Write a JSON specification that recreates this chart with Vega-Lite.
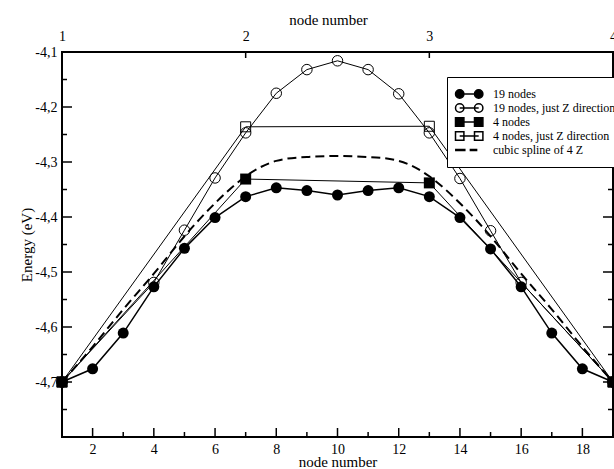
{
  "$schema": "https://vega.github.io/schema/vega-lite/v6.json",
  "width": 551,
  "height": 385,
  "autosize": "none",
  "padding": {"left": 62, "top": 52, "right": 1, "bottom": 32},
  "background": "white",
  "config": {
    "view": {"stroke": "black", "strokeWidth": 2},
    "font": "Liberation Serif",
    "axis": {
      "domain": false,
      "grid": false,
      "ticks": false,
      "labelColor": "black",
      "titleColor": "black",
      "labelFont": "Liberation Serif",
      "titleFont": "Liberation Serif",
      "titleFontWeight": "normal",
      "labelFontSize": 14,
      "titleFontSize": 15,
      "labelOverlap": false,
      "labelFlush": false
    }
  },
  "datasets": {
    "curves": [
      {"series": "19 nodes", "x": 1, "y": -4.700},
      {"series": "19 nodes", "x": 2, "y": -4.676},
      {"series": "19 nodes", "x": 3, "y": -4.611},
      {"series": "19 nodes", "x": 4, "y": -4.527},
      {"series": "19 nodes", "x": 5, "y": -4.457},
      {"series": "19 nodes", "x": 6, "y": -4.401},
      {"series": "19 nodes", "x": 7, "y": -4.363},
      {"series": "19 nodes", "x": 8, "y": -4.347},
      {"series": "19 nodes", "x": 9, "y": -4.352},
      {"series": "19 nodes", "x": 10, "y": -4.360},
      {"series": "19 nodes", "x": 11, "y": -4.352},
      {"series": "19 nodes", "x": 12, "y": -4.347},
      {"series": "19 nodes", "x": 13, "y": -4.363},
      {"series": "19 nodes", "x": 14, "y": -4.401},
      {"series": "19 nodes", "x": 15, "y": -4.458},
      {"series": "19 nodes", "x": 16, "y": -4.527},
      {"series": "19 nodes", "x": 17, "y": -4.611},
      {"series": "19 nodes", "x": 18, "y": -4.676},
      {"series": "19 nodes", "x": 19, "y": -4.700},
      {"series": "19 nodes, just Z direction", "x": 1, "y": -4.700},
      {"series": "19 nodes, just Z direction", "x": 4, "y": -4.519},
      {"series": "19 nodes, just Z direction", "x": 5, "y": -4.424},
      {"series": "19 nodes, just Z direction", "x": 6, "y": -4.329},
      {"series": "19 nodes, just Z direction", "x": 7, "y": -4.247},
      {"series": "19 nodes, just Z direction", "x": 8, "y": -4.175},
      {"series": "19 nodes, just Z direction", "x": 9, "y": -4.132},
      {"series": "19 nodes, just Z direction", "x": 10, "y": -4.116},
      {"series": "19 nodes, just Z direction", "x": 11, "y": -4.132},
      {"series": "19 nodes, just Z direction", "x": 12, "y": -4.176},
      {"series": "19 nodes, just Z direction", "x": 13, "y": -4.247},
      {"series": "19 nodes, just Z direction", "x": 14, "y": -4.330},
      {"series": "19 nodes, just Z direction", "x": 15, "y": -4.425},
      {"series": "19 nodes, just Z direction", "x": 16, "y": -4.519},
      {"series": "19 nodes, just Z direction", "x": 19, "y": -4.700},
      {"series": "4 nodes", "x": 1, "y": -4.700},
      {"series": "4 nodes", "x": 7, "y": -4.331},
      {"series": "4 nodes", "x": 13, "y": -4.338},
      {"series": "4 nodes", "x": 19, "y": -4.700},
      {"series": "4 nodes, just Z direction", "x": 1, "y": -4.700},
      {"series": "4 nodes, just Z direction", "x": 7, "y": -4.236},
      {"series": "4 nodes, just Z direction", "x": 13, "y": -4.235},
      {"series": "4 nodes, just Z direction", "x": 19, "y": -4.700},
      {"series": "cubic spline of 4 Z", "x": 1, "y": -4.700},
      {"series": "cubic spline of 4 Z", "x": 2, "y": -4.636},
      {"series": "cubic spline of 4 Z", "x": 3, "y": -4.568},
      {"series": "cubic spline of 4 Z", "x": 4, "y": -4.503},
      {"series": "cubic spline of 4 Z", "x": 5, "y": -4.435},
      {"series": "cubic spline of 4 Z", "x": 6, "y": -4.375},
      {"series": "cubic spline of 4 Z", "x": 7, "y": -4.326},
      {"series": "cubic spline of 4 Z", "x": 8, "y": -4.298},
      {"series": "cubic spline of 4 Z", "x": 9, "y": -4.291},
      {"series": "cubic spline of 4 Z", "x": 10, "y": -4.289},
      {"series": "cubic spline of 4 Z", "x": 11, "y": -4.291},
      {"series": "cubic spline of 4 Z", "x": 12, "y": -4.298},
      {"series": "cubic spline of 4 Z", "x": 13, "y": -4.326},
      {"series": "cubic spline of 4 Z", "x": 14, "y": -4.375},
      {"series": "cubic spline of 4 Z", "x": 15, "y": -4.435},
      {"series": "cubic spline of 4 Z", "x": 16, "y": -4.503},
      {"series": "cubic spline of 4 Z", "x": 17, "y": -4.568},
      {"series": "cubic spline of 4 Z", "x": 18, "y": -4.636},
      {"series": "cubic spline of 4 Z", "x": 19, "y": -4.700}
    ],
    "yticks": [
      {"v": -4.75}, {"v": -4.7}, {"v": -4.65}, {"v": -4.6}, {"v": -4.55}, {"v": -4.5}, {"v": -4.45},
      {"v": -4.4}, {"v": -4.35}, {"v": -4.3}, {"v": -4.25}, {"v": -4.2}, {"v": -4.15}
    ]
  },
  "data": {"name": "curves"},
  "layer": [
    {
      "transform": [{"filter": "datum.series === '19 nodes'"}],
      "mark": {"type": "line", "color": "black", "strokeWidth": 1.5},
      "encoding": {
        "x": {
          "field": "x", "type": "quantitative",
          "scale": {"domain": [1, 19], "nice": false, "zero": false},
          "axis": {
            "orient": "bottom",
            "title": "node number",
            "values": [2, 4, 6, 8, 10, 12, 14, 16, 18],
            "labelPadding": 5,
            "titlePadding": -2
          }
        },
        "y": {
          "field": "y", "type": "quantitative",
          "scale": {"domain": [-4.8, -4.1], "nice": false, "zero": false},
          "axis": {
            "orient": "left",
            "title": "Energy (eV)",
            "values": [-4.7, -4.6, -4.5, -4.4, -4.3, -4.2, -4.1],
            "labelExpr": "'-' + replace(format(abs(datum.value), '.1f'), '.', ',')",
            "labelPadding": 5,
            "titlePadding": 0
          }
        }
      }
    },
    {
      "transform": [{"filter": "datum.series === 'cubic spline of 4 Z'"}],
      "mark": {"type": "line", "color": "black", "strokeWidth": 2, "strokeDash": [9, 5], "interpolate": "natural"},
      "encoding": {
        "x": {
          "field": "x", "type": "quantitative",
          "scale": {"domain": [1, 19], "nice": false, "zero": false},
          "axis": {
            "orient": "top",
            "title": "node number",
            "titleX": 266,
            "values": [1, 7, 13, 19],
            "labelExpr": "format((datum.value - 1) / 6 + 1, 'd')",
            "labelPadding": 9,
            "titlePadding": 2
          }
        },
        "y": {"field": "y", "type": "quantitative", "scale": {"domain": [-4.8, -4.1], "nice": false, "zero": false}, "axis": null}
      }
    },
    {
      "transform": [{"filter": "datum.series === '19 nodes' && datum.x % 2 === 0"}],
      "mark": {"type": "point", "shape": "M0,0L0,-1", "filled": false, "stroke": "black", "strokeWidth": 1.5, "size": 324, "opacity": 1},
      "encoding": {
        "x": {"field": "x", "type": "quantitative", "scale": {"domain": [1, 19], "nice": false, "zero": false}, "axis": null},
        "y": {"datum": -4.8, "type": "quantitative", "scale": {"domain": [-4.8, -4.1], "nice": false, "zero": false}, "axis": null}
      }
    },
    {
      "transform": [{"filter": "datum.series === '19 nodes' && datum.x % 2 === 1 && datum.x > 1 && datum.x < 19"}],
      "mark": {"type": "point", "shape": "M0,0L0,-1", "filled": false, "stroke": "black", "strokeWidth": 1.5, "size": 100, "opacity": 1},
      "encoding": {
        "x": {"field": "x", "type": "quantitative", "scale": {"domain": [1, 19], "nice": false, "zero": false}, "axis": null},
        "y": {"datum": -4.8, "type": "quantitative", "scale": {"domain": [-4.8, -4.1], "nice": false, "zero": false}, "axis": null}
      }
    },
    {
      "transform": [{"filter": "datum.series === '4 nodes' && datum.x > 1 && datum.x < 19"}],
      "mark": {"type": "point", "shape": "M0,0L0,1", "filled": false, "stroke": "black", "strokeWidth": 1.5, "size": 144, "opacity": 1},
      "encoding": {
        "x": {"field": "x", "type": "quantitative", "scale": {"domain": [1, 19], "nice": false, "zero": false}, "axis": null},
        "y": {"datum": -4.1, "type": "quantitative", "scale": {"domain": [-4.8, -4.1], "nice": false, "zero": false}, "axis": null}
      }
    },
    {
      "data": {"name": "yticks"},
      "transform": [{"filter": "abs(round(datum.v * 20)) % 2 === 0"}],
      "mark": {"type": "point", "shape": "M0,0L1,0", "filled": false, "stroke": "black", "strokeWidth": 1.5, "size": 400, "opacity": 1},
      "encoding": {
        "x": {"datum": 1, "type": "quantitative", "scale": {"domain": [1, 19], "nice": false, "zero": false}, "axis": null},
        "y": {"field": "v", "type": "quantitative", "scale": {"domain": [-4.8, -4.1], "nice": false, "zero": false}, "axis": null}
      }
    },
    {
      "data": {"name": "yticks"},
      "transform": [{"filter": "abs(round(datum.v * 20)) % 2 === 1"}],
      "mark": {"type": "point", "shape": "M0,0L1,0", "filled": false, "stroke": "black", "strokeWidth": 1.5, "size": 100, "opacity": 1},
      "encoding": {
        "x": {"datum": 1, "type": "quantitative", "scale": {"domain": [1, 19], "nice": false, "zero": false}, "axis": null},
        "y": {"field": "v", "type": "quantitative", "scale": {"domain": [-4.8, -4.1], "nice": false, "zero": false}, "axis": null}
      }
    },
    {
      "data": {"name": "yticks"},
      "transform": [{"filter": "abs(round(datum.v * 20)) % 2 === 0"}],
      "mark": {"type": "point", "shape": "M0,0L-1,0", "filled": false, "stroke": "black", "strokeWidth": 1.5, "size": 400, "opacity": 1},
      "encoding": {
        "x": {"datum": 19, "type": "quantitative", "scale": {"domain": [1, 19], "nice": false, "zero": false}, "axis": null},
        "y": {"field": "v", "type": "quantitative", "scale": {"domain": [-4.8, -4.1], "nice": false, "zero": false}, "axis": null}
      }
    },
    {
      "data": {"name": "yticks"},
      "transform": [{"filter": "abs(round(datum.v * 20)) % 2 === 1"}],
      "mark": {"type": "point", "shape": "M0,0L-1,0", "filled": false, "stroke": "black", "strokeWidth": 1.5, "size": 100, "opacity": 1},
      "encoding": {
        "x": {"datum": 19, "type": "quantitative", "scale": {"domain": [1, 19], "nice": false, "zero": false}, "axis": null},
        "y": {"field": "v", "type": "quantitative", "scale": {"domain": [-4.8, -4.1], "nice": false, "zero": false}, "axis": null}
      }
    },
    {
      "transform": [{"filter": "datum.series === '4 nodes, just Z direction'"}],
      "mark": {"type": "line", "color": "black", "strokeWidth": 1},
      "encoding": {
        "x": {"field": "x", "type": "quantitative", "scale": {"domain": [1, 19], "nice": false, "zero": false}, "axis": null},
        "y": {"field": "y", "type": "quantitative", "scale": {"domain": [-4.8, -4.1], "nice": false, "zero": false}, "axis": null}
      }
    },
    {
      "transform": [{"filter": "datum.series === '4 nodes'"}],
      "mark": {"type": "line", "color": "black", "strokeWidth": 1},
      "encoding": {
        "x": {"field": "x", "type": "quantitative", "scale": {"domain": [1, 19], "nice": false, "zero": false}, "axis": null},
        "y": {"field": "y", "type": "quantitative", "scale": {"domain": [-4.8, -4.1], "nice": false, "zero": false}, "axis": null}
      }
    },
    {
      "transform": [{"filter": "datum.series === '19 nodes, just Z direction'"}],
      "mark": {"type": "line", "color": "black", "strokeWidth": 1},
      "encoding": {
        "x": {"field": "x", "type": "quantitative", "scale": {"domain": [1, 19], "nice": false, "zero": false}, "axis": null},
        "y": {"field": "y", "type": "quantitative", "scale": {"domain": [-4.8, -4.1], "nice": false, "zero": false}, "axis": null}
      }
    },
    {
      "transform": [{"filter": "datum.series === '4 nodes, just Z direction'"}],
      "mark": {"type": "point", "shape": "square", "filled": false, "color": "black", "strokeWidth": 1, "size": 100, "opacity": 1},
      "encoding": {
        "x": {"field": "x", "type": "quantitative", "scale": {"domain": [1, 19], "nice": false, "zero": false}, "axis": null},
        "y": {"field": "y", "type": "quantitative", "scale": {"domain": [-4.8, -4.1], "nice": false, "zero": false}, "axis": null}
      }
    },
    {
      "transform": [{"filter": "datum.series === '4 nodes'"}],
      "mark": {"type": "point", "shape": "square", "filled": true, "color": "black", "size": 121, "opacity": 1},
      "encoding": {
        "x": {"field": "x", "type": "quantitative", "scale": {"domain": [1, 19], "nice": false, "zero": false}, "axis": null},
        "y": {"field": "y", "type": "quantitative", "scale": {"domain": [-4.8, -4.1], "nice": false, "zero": false}, "axis": null}
      }
    },
    {
      "transform": [{"filter": "datum.series === '19 nodes, just Z direction'"}],
      "mark": {"type": "point", "shape": "circle", "filled": false, "color": "black", "strokeWidth": 1, "size": 110, "opacity": 1},
      "encoding": {
        "x": {"field": "x", "type": "quantitative", "scale": {"domain": [1, 19], "nice": false, "zero": false}, "axis": null},
        "y": {"field": "y", "type": "quantitative", "scale": {"domain": [-4.8, -4.1], "nice": false, "zero": false}, "axis": null}
      }
    },
    {
      "transform": [{"filter": "datum.series === '19 nodes'"}],
      "mark": {"type": "point", "shape": "circle", "filled": true, "color": "black", "size": 121, "opacity": 1},
      "encoding": {
        "x": {"field": "x", "type": "quantitative", "scale": {"domain": [1, 19], "nice": false, "zero": false}, "axis": null},
        "y": {"field": "y", "type": "quantitative", "scale": {"domain": [-4.8, -4.1], "nice": false, "zero": false}, "axis": null}
      }
    },
    {
      "transform": [{"filter": "false"}],
      "mark": {"type": "point", "filled": true, "stroke": "black", "strokeWidth": 1, "size": 64, "opacity": 1},
      "encoding": {
        "x": {"field": "x", "type": "quantitative", "scale": {"domain": [1, 19], "nice": false, "zero": false}, "axis": null},
        "y": {"field": "y", "type": "quantitative", "scale": {"domain": [-4.8, -4.1], "nice": false, "zero": false}, "axis": null},
        "shape": {
          "field": "series", "type": "nominal",
          "scale": {
            "domain": ["19 nodes", "19 nodes, just Z direction", "4 nodes", "4 nodes, just Z direction", "cubic spline of 4 Z"],
            "range": [
              "M-2.125,0A1.05,1.05,0,1,0,-0.025,0A1.05,1.05,0,1,0,-2.125,0ZM2.625,0A1.05,1.05,0,1,0,4.725,0A1.05,1.05,0,1,0,2.625,0ZM-1.075,0L3.675,0",
              "M-2.125,0A1.05,1.05,0,1,0,-0.025,0A1.05,1.05,0,1,0,-2.125,0ZM2.625,0A1.05,1.05,0,1,0,4.725,0A1.05,1.05,0,1,0,2.625,0ZM-1.075,0L3.675,0",
              "M-2.125,-1.05h2.1v2.1h-2.1ZM2.625,-1.05h2.1v2.1h-2.1ZM-1.075,0L3.675,0",
              "M-2.125,-1.05h2.1v2.1h-2.1ZM2.625,-1.05h2.1v2.1h-2.1ZM-1.075,0L3.675,0",
              "M-2.05,-0.125h2.25v0.25h-2.25ZM1.6,-0.125h1.55v0.25h-1.55Z"
            ]
          },
          "legend": {
            "title": null, "orient": "none", "legendX": 385, "legendY": 25,
            "fillColor": "white", "strokeColor": "black", "padding": 11,
            "symbolSize": 64, "labelOffset": 23,
            "labelFont": "Liberation Serif", "labelFontSize": 12, "labelColor": "black",
            "labelLimit": 0, "rowPadding": -4
          }
        },
        "fill": {
          "field": "series", "type": "nominal",
          "scale": {
            "domain": ["19 nodes", "19 nodes, just Z direction", "4 nodes", "4 nodes, just Z direction", "cubic spline of 4 Z"],
            "range": ["black", "transparent", "black", "transparent", "black"]
          },
          "legend": {
            "title": null, "orient": "none", "legendX": 385, "legendY": 25,
            "fillColor": "white", "strokeColor": "black", "padding": 11,
            "symbolSize": 64, "labelOffset": 23,
            "labelFont": "Liberation Serif", "labelFontSize": 12, "labelColor": "black",
            "labelLimit": 0, "rowPadding": -4
          }
        }
      }
    }
  ],
  "resolve": {"axis": {"x": "independent", "y": "independent"}}
}
